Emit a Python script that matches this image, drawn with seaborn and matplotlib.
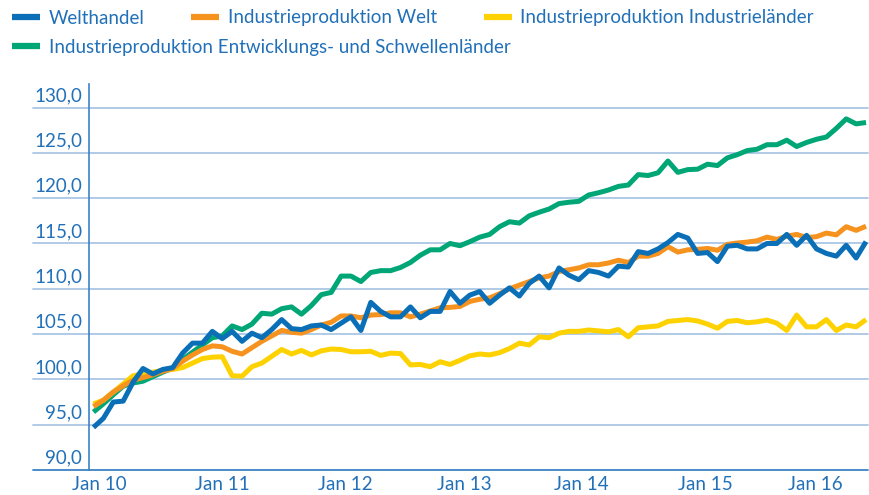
import numpy as np
import pandas as pd
import matplotlib
matplotlib.use("Agg")
import matplotlib.pyplot as plt
import matplotlib.transforms as mtransforms
from matplotlib.lines import Line2D
import seaborn as sns

# ---------------- data (monthly, Jan 2010 - Jul 2016) ----------------
months = pd.date_range("2010-01-01", periods=79, freq="MS")

welthandel = [94.7, 95.7, 97.5, 97.6, 99.7, 101.2, 100.6, 101.1, 101.3, 102.9,
              104.0, 104.0, 105.3, 104.5, 105.3, 104.2, 105.1, 104.6, 105.5, 106.6,
              105.6, 105.5, 105.9, 106.0, 105.5, 106.2, 106.9, 105.4, 108.5, 107.5,
              106.9, 106.9, 108.0, 106.8, 107.5, 107.5, 109.7, 108.4, 109.3, 109.7,
              108.4, 109.3, 110.1, 109.2, 110.6, 111.4, 110.1, 112.3, 111.5, 111.0,
              112.0, 111.8, 111.4, 112.5, 112.4, 114.1, 113.9, 114.4, 115.1, 116.0,
              115.6, 113.9, 114.0, 113.0, 114.7, 114.8, 114.4, 114.4, 115.0, 115.0,
              116.0, 114.8, 115.9, 114.4, 113.9, 113.6, 114.8, 113.4, 115.2]

ip_welt = [97.0, 97.7, 98.6, 99.3, 99.9, 100.2, 100.5, 100.9, 101.2, 102.0,
           102.7, 103.3, 103.7, 103.6, 103.1, 102.8, 103.5, 104.2, 104.8, 105.4,
           105.2, 105.1, 105.5, 106.0, 106.3, 107.0, 107.0, 106.8, 107.1, 107.15,
           107.35, 107.35, 106.9, 107.2, 107.55, 107.9, 107.95, 108.05, 108.6, 108.85,
           109.0, 109.45, 110.0, 110.4, 110.8, 111.2, 111.4, 111.9, 112.1, 112.3,
           112.65, 112.65, 112.85, 113.15, 112.9, 113.6, 113.6, 113.9, 114.65, 114.05,
           114.3, 114.35, 114.45, 114.25, 114.9, 115.05, 115.15, 115.3, 115.7, 115.45,
           115.8, 116.0, 115.65, 115.75, 116.15, 115.95, 116.85, 116.45, 116.9]

ip_industrielaender = [97.3, 97.7, 98.6, 99.5, 100.4, 100.6, 100.8, 101.0, 101.1, 101.3,
                       101.8, 102.3, 102.45, 102.5, 100.4, 100.35, 101.4, 101.8, 102.55, 103.3,
                       102.8, 103.2, 102.7, 103.15, 103.35, 103.3, 103.05, 103.05, 103.1, 102.65,
                       102.9, 102.85, 101.6, 101.65, 101.4, 101.95, 101.65, 102.1, 102.6, 102.8,
                       102.7, 102.95, 103.4, 104.0, 103.8, 104.7, 104.6, 105.1, 105.3, 105.3,
                       105.45, 105.35, 105.25, 105.5, 104.7, 105.7, 105.8, 105.9, 106.4, 106.5,
                       106.6, 106.45, 106.1, 105.65, 106.4, 106.5, 106.25, 106.35, 106.55, 106.2,
                       105.4, 107.1, 105.8, 105.8, 106.6, 105.4, 106.0, 105.8, 106.6]

ip_schwellenlaender = [96.4, 97.3, 98.3, 99.25, 99.6, 99.8, 100.3, 100.8, 101.25, 102.2,
                       103.0, 103.8, 104.6, 104.8, 105.9, 105.5, 106.1, 107.3, 107.2, 107.8,
                       108.0, 107.2, 108.15, 109.35, 109.6, 111.4, 111.4, 110.8, 111.8, 112.0,
                       112.0, 112.35, 112.9, 113.7, 114.3, 114.3, 115.0, 114.75, 115.2, 115.7,
                       116.0, 116.85, 117.4, 117.25, 118.05, 118.45, 118.8, 119.4, 119.55, 119.65,
                       120.35, 120.6, 120.9, 121.3, 121.45, 122.6, 122.5, 122.8, 124.1, 122.85,
                       123.15, 123.2, 123.75, 123.6, 124.45, 124.8, 125.25, 125.4, 125.9, 125.9,
                       126.4, 125.7, 126.15, 126.5, 126.75, 127.7, 128.75, 128.2, 128.35]

series_names = ["Welthandel",
                "Industrieproduktion Welt",
                "Industrieproduktion Industrieländer",
                "Industrieproduktion Entwicklungs- und Schwellenländer"]

xtick_labels = ["Jan 10", "Jan 11", "Jan 12", "Jan 13", "Jan 14", "Jan 15", "Jan 16"]
ytick_values = [90, 95, 100, 105, 110, 115, 120, 125, 130]

# ---------------- style ----------------
colors = {series_names[0]: "#0a6fb7",
          series_names[1]: "#f6921e",
          series_names[2]: "#fdd200",
          series_names[3]: "#00a676"}
text_color = "#2170b8"
grid_color = "#aac6e5"
axis_color = "#3b84c6"

sns.set_theme(style="white")
plt.rcParams["font.family"] = ["Lato", "DejaVu Sans"]
FS = 13.5

df = pd.DataFrame({"month": months,
                   series_names[0]: welthandel,
                   series_names[1]: ip_welt,
                   series_names[2]: ip_industrielaender,
                   series_names[3]: ip_schwellenlaender})
df["idx"] = np.arange(len(df))

fig = plt.figure(figsize=(8.7, 4.95), dpi=100)
W, H = 870, 495
ax_left, ax_right, ax_bottom, ax_top = 89.3, 868, 470, 84
ax = fig.add_axes([ax_left / W, 1 - ax_bottom / H,
                   (ax_right - ax_left) / W, (ax_bottom - ax_top) / H])

# draw order: green, yellow, orange, blue (blue on top)
for z, name in enumerate(reversed(series_names)):
    sns.lineplot(data=df, x="idx", y=name, color=colors[name], lw=3.6,
                 ax=ax, zorder=3 + z, legend=False)
for line in ax.get_lines():
    line.set_solid_joinstyle("round")
    line.set_solid_capstyle("butt")

ax.set_xlim(-0.42, 78.2)
ax.set_ylim(90, 132.6)

# gridlines extending under the y labels
ext = (33 - ax_left) / (ax_right - ax_left)
for v in ytick_values:
    ax.axhline(v, xmin=ext, xmax=1.0, color=(axis_color if v == 90 else grid_color),
               lw=1.3, clip_on=False, zorder=1)

for s in ["top", "right", "bottom"]:
    ax.spines[s].set_visible(False)
ax.spines["left"].set_color(axis_color)
ax.spines["left"].set_linewidth(1.2)
ax.spines["left"].set_zorder(2)

ax.set_yticks(ytick_values)
ax.set_yticklabels([f"{v:.1f}".replace(".", ",") for v in ytick_values])
ax.tick_params(axis="y", length=0, pad=5, labelsize=FS, labelcolor=text_color)
off = mtransforms.ScaledTranslation(0, 0.135, fig.dpi_scale_trans)
for lbl in ax.get_yticklabels():
    lbl.set_transform(lbl.get_transform() + off)

xtick_pos = [0.57, 13.0, 25.4, 37.4, 49.3, 61.8, 72.9]
ax.set_xticks(xtick_pos)
ax.set_xticklabels(xtick_labels)
ax.tick_params(axis="x", length=0, pad=4, labelsize=FS, labelcolor=text_color)
ax.set_xlabel("")
ax.set_ylabel("")

# legend
handles = [Line2D([0], [0], color=colors[n], lw=4.5, solid_capstyle="butt")
           for n in series_names]
common = dict(frameon=False, fontsize=FS, handlelength=1.5, handletextpad=0.45,
              borderpad=0, borderaxespad=0, labelcolor=text_color)
leg1 = fig.legend(handles[:3], series_names[:3], ncol=3, loc="center left",
                  bbox_to_anchor=(12 / W, 1 - 18 / H), columnspacing=2.5, **common)
leg2 = fig.legend(handles[3:], series_names[3:], ncol=1, loc="center left",
                  bbox_to_anchor=(12 / W, 1 - 47 / H), **common)

fig.savefig("out.png", dpi=100)
